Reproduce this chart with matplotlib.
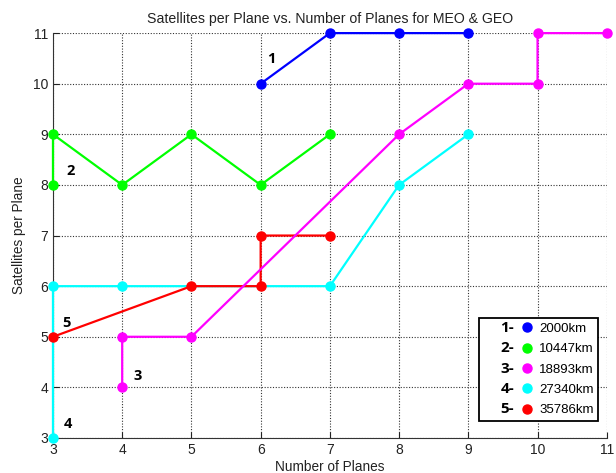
import matplotlib
matplotlib.use('Agg')
import matplotlib.pyplot as plt
from matplotlib.lines import Line2D
from matplotlib.text import Text
from matplotlib.legend_handler import HandlerBase

plt.rcParams['font.family'] = ['Liberation Sans', 'DejaVu Sans']

# (planes, satellites per plane) for each altitude
alt_labels = ['2000km', '10447km', '18893km', '27340km', '35786km']
tags = ['1', '2', '3', '4', '5']
colors = ['#0000ff', '#00ff00', '#ff00ff', '#00ffff', '#ff0000']

planes_1 = [6, 7, 8, 9]
sats_1 = [10, 11, 11, 11]
planes_2 = [3, 3, 4, 5, 6, 7]
sats_2 = [8, 9, 8, 9, 8, 9]
planes_3 = [4, 4, 5, 8, 9, 10, 10, 11]
sats_3 = [4, 5, 5, 9, 10, 10, 11, 11]
planes_4 = [3, 3, 4, 7, 8, 9]
sats_4 = [3, 6, 6, 6, 8, 9]
planes_5 = [3, 5, 6, 6, 7]
sats_5 = [5, 6, 6, 7, 7]

# where the series numbers are written
tag_x = [6.1, 3.2, 4.17, 3.15, 3.13]
tag_y = [10.4, 8.2, 4.15, 3.2, 5.2]

series = [(planes_1, sats_1), (planes_2, sats_2), (planes_3, sats_3),
          (planes_4, sats_4), (planes_5, sats_5)]

TAG_FONT = ['Open Sans', 'DejaVu Sans']


class NumberedMarker(HandlerBase):
    # legend key: bold "n-" followed by a round marker
    def __init__(self, tag):
        super().__init__()
        self.tag = tag

    def create_artists(self, legend, orig_handle, xdescent, ydescent,
                       width, height, fontsize, trans):
        yc = height / 2 - ydescent
        txt = Text(-xdescent + 12, yc - 0.5, self.tag + '-', fontsize=11,
                   fontweight='bold', family=TAG_FONT, va='center',
                   ha='left', color='black')
        txt.set_transform(trans)
        dot = Line2D([width - xdescent - 4], [yc], marker='o', ls='',
                     color=orig_handle.get_color(), ms=6.5)
        dot.set_transform(trans)
        return [txt, dot]


fig = plt.figure(figsize=(6.16, 4.73), dpi=100)
ax = fig.add_axes([0.086, 0.074, 0.899, 0.856])

for i in [3, 4, 2, 1, 0]:
    px, py = series[i]
    ax.plot(px, py, '-o', color=colors[i], lw=1.6, ms=6.5,
            clip_on=False, zorder=3)

for i in range(5):
    ax.text(tag_x[i], tag_y[i], tags[i], fontsize=10.5, fontweight='bold',
            family=TAG_FONT, zorder=4)

ax.set_xlim(3, 11)
ax.set_ylim(3, 11)
ax.set_xticks(range(3, 12))
ax.set_yticks(range(3, 12))
ax.grid(True, color='#333333', linestyle=(0, (1, 1.5)), linewidth=0.8)
ax.tick_params(direction='in', length=4, labelsize=10, colors='#222222')
for side in ['top', 'right']:
    ax.spines[side].set_visible(False)
for side in ['left', 'bottom']:
    ax.spines[side].set_color('#333333')

ax.set_title('Satellites per Plane vs. Number of Planes for MEO & GEO',
             fontsize=10.2, color='#222222', pad=7)
ax.set_xlabel('Number of Planes', fontsize=9.8, color='#222222', labelpad=2)
ax.set_ylabel('Satellites per Plane', fontsize=9.8, color='#222222', labelpad=5)

leg_handles = [Line2D([], [], marker='o', ls='', color=c) for c in colors]
handler_map = {h: NumberedMarker(t) for h, t in zip(leg_handles, tags)}
leg = ax.legend(leg_handles, alt_labels, handler_map=handler_map,
                loc='lower right', bbox_to_anchor=(0.985, 0.042),
                fontsize=9.5, frameon=True, fancybox=False,
                edgecolor='black', framealpha=1,
                handlelength=3.7, handletextpad=0.5, labelspacing=0.62,
                borderpad=0.35, borderaxespad=0)
leg.get_frame().set_linewidth(1.3)
leg.set_zorder(5)

fig.savefig('out.png', dpi=100)
